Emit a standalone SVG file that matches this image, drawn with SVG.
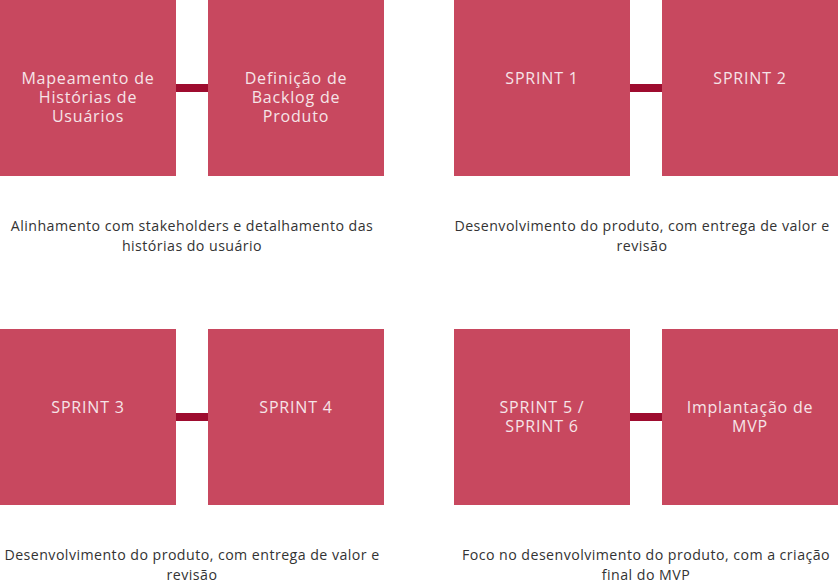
<svg xmlns="http://www.w3.org/2000/svg" width="838" height="587" viewBox="0 0 838 587">
<style>
.box{fill:#c8485f}
.bt{font-family:"Open Sans","Noto Sans",sans-serif;font-size:16px;letter-spacing:0.8px;fill:#f6e4e8;text-anchor:middle}
.cap{font-family:"Open Sans","Noto Sans",sans-serif;font-size:14.2px;letter-spacing:0.45px;fill:#333333;text-anchor:middle}
.con{fill:#9e0c2f}
</style>
<rect width="838" height="587" fill="#ffffff"/>
<g id="connectors">
<rect class="con" x="176" y="84" width="32" height="8"/>
<rect class="con" x="630" y="84" width="32" height="8"/>
<rect class="con" x="176" y="413" width="32" height="8"/>
<rect class="con" x="630" y="413" width="32" height="8"/>
</g>
<g id="n1"><rect class="box" x="0" y="0" width="176" height="176"/>
<text class="bt" x="88" y="84">Mapeamento de</text><text class="bt" x="88" y="103">Histórias de</text><text class="bt" x="88" y="122">Usuários</text></g>
<g id="n2"><rect class="box" x="208" y="0" width="176" height="176"/>
<text class="bt" x="296" y="84">Definição de</text><text class="bt" x="296" y="103">Backlog de</text><text class="bt" x="296" y="122">Produto</text></g>
<g id="n3"><rect class="box" x="454" y="0" width="176" height="176"/>
<text class="bt" x="542" y="84">SPRINT 1</text></g>
<g id="n4"><rect class="box" x="662" y="0" width="176" height="176"/>
<text class="bt" x="750" y="84">SPRINT 2</text></g>
<g id="n5"><rect class="box" x="0" y="329" width="176" height="176"/>
<text class="bt" x="88" y="413">SPRINT 3</text></g>
<g id="n6"><rect class="box" x="208" y="329" width="176" height="176"/>
<text class="bt" x="296" y="413">SPRINT 4</text></g>
<g id="n7"><rect class="box" x="454" y="329" width="176" height="176"/>
<text class="bt" x="542" y="413">SPRINT 5 /</text><text class="bt" x="542" y="432">SPRINT 6</text></g>
<g id="n8"><rect class="box" x="662" y="329" width="176" height="176"/>
<text class="bt" x="750" y="413">Implantação de</text><text class="bt" x="750" y="432">MVP</text></g>
<g id="captions">
<text class="cap" x="192" y="231">Alinhamento com stakeholders e detalhamento das</text>
<text class="cap" x="192" y="251">histórias do usuário</text>
<text class="cap" x="642" y="231">Desenvolvimento do produto, com entrega de valor e</text>
<text class="cap" x="642" y="251">revisão</text>
<text class="cap" x="192" y="560">Desenvolvimento do produto, com entrega de valor e</text>
<text class="cap" x="192" y="580">revisão</text>
<text class="cap" x="646" y="560">Foco no desenvolvimento do produto, com a criação</text>
<text class="cap" x="646" y="580">final do MVP</text>
</g>
</svg>
